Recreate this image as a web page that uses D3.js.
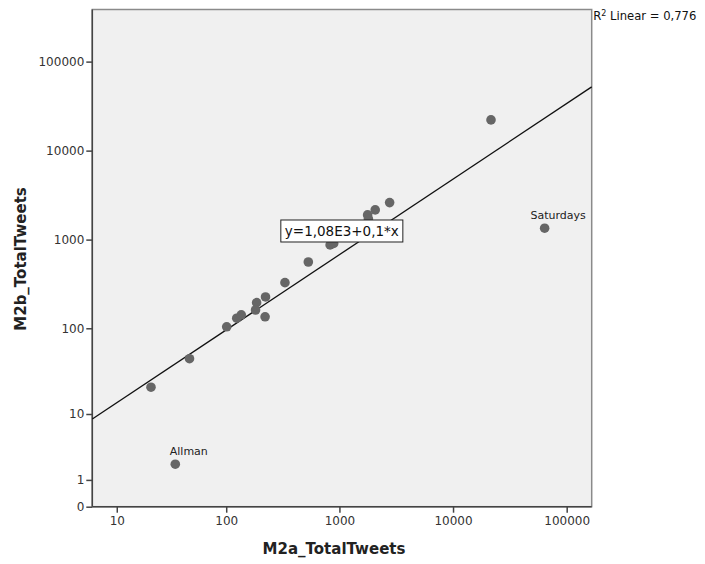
<!DOCTYPE html>
<html>
<head>
<meta charset="utf-8">
<script src="https://cdn.jsdelivr.net/npm/d3@7"></script>
<style>
  body { margin: 0; background: #fff; }
  svg { font-family: "DejaVu Sans", sans-serif; }
</style>
</head>
<body>
<svg width="705" height="564"></svg>
<script>
// M2a vs M2b total tweets, one point per case
const xValues = [21, 47, 101, 124, 136, 186, 182, 223, 221, 331, 532, 828, 890, 1771, 1799, 2066, 2767, 21580, 63970, 35];
const yValues = [21, 45, 104, 130, 142, 195, 161, 226, 135, 328, 560, 871, 906, 1896, 1709, 2157, 2606, 22130, 1343, 2];
const pointLabels = ['', '', '', '', '', '', '', '', '', '', '', '', '', '', '', '', '', '', 'Saturdays', 'Allman'];

const xTicks = [10, 100, 1000, 10000, 100000];
const yTicks = [0, 1, 10, 100, 1000, 10000, 100000];

// fit line, in log10(v + 1) units
const fitIntercept = 0.284;
const fitSlope = 0.849;
const fitText = 'y=1,08E3+0,1*x';
const r2Text = '0,776';

const svg = d3.select('svg');

const plotLeft = 92.3, plotRight = 591.7, plotTop = 9.5, plotBottom = 506.7;

const x = d3.scaleSymlog().constant(1)
  .domain([5.7, 166000])
  .range([plotLeft, plotRight]);

const y = d3.scaleSymlog().constant(1)
  .domain([0, 385000])
  .range([plotBottom, plotTop]);

svg.append('rect')
  .attr('x', plotLeft)
  .attr('y', plotTop)
  .attr('width', plotRight - plotLeft)
  .attr('height', plotBottom - plotTop)
  .attr('fill', '#f0f0f0')
  .attr('stroke', '#8a8a8a')
  .attr('stroke-width', 1.5);

const xAxis = svg.append('g')
  .attr('transform', `translate(0,${plotBottom})`)
  .call(d3.axisBottom(x).tickValues(xTicks).tickFormat(d3.format('d')).tickSize(6).tickPadding(4));

const yAxis = svg.append('g')
  .attr('transform', `translate(${plotLeft},0)`)
  .call(d3.axisLeft(y).tickValues(yTicks).tickFormat(d3.format('d')).tickSize(6).tickPadding(2));

[xAxis, yAxis].forEach(g => {
  g.select('.domain').attr('stroke', '#444').attr('stroke-width', 1.5);
  g.selectAll('.tick line').attr('stroke', '#444').attr('stroke-width', 1.5);
  g.selectAll('.tick text')
    .attr('fill', '#333')
    .style('font-size', '12px')
    .style('font-family', '"DejaVu Sans", sans-serif');
});
xAxis.select('.domain').attr('d', `M${plotLeft},0H${plotRight}`);
yAxis.select('.domain').attr('d', `M0,${plotBottom}V${plotTop}`);

// fit line
const fitY = v => Math.pow(10, fitIntercept + fitSlope * Math.log10(v + 1)) - 1;
const xd = x.domain();
svg.append('line')
  .attr('x1', x(xd[0]))
  .attr('y1', y(fitY(xd[0])))
  .attr('x2', x(xd[1]))
  .attr('y2', y(fitY(xd[1])))
  .attr('stroke', '#111')
  .attr('stroke-width', 1.3);

const points = xValues.map((v, i) => ({ x: v, y: yValues[i], label: pointLabels[i] }));

svg.append('g')
  .selectAll('circle')
  .data(points)
  .enter()
  .append('circle')
  .attr('cx', d => x(d.x))
  .attr('cy', d => y(d.y))
  .attr('r', 4.8)
  .attr('fill', '#666');

svg.append('g')
  .selectAll('text')
  .data(points.filter(d => d.label))
  .enter()
  .append('text')
  .attr('x', d => x(d.x) + 13.5)
  .attr('y', d => y(d.y) - 9)
  .attr('text-anchor', 'middle')
  .attr('fill', '#222')
  .style('font-size', '11px')
  .text(d => d.label);

// equation box
const eq = svg.append('g')
  .attr('transform', `translate(${x(1050)},${y(1250)})`);
const eqText = eq.append('text')
  .attr('text-anchor', 'middle')
  .attr('dy', '0.36em')
  .attr('fill', '#111')
  .style('font-size', '13.5px')
  .text(fitText);
const bb = eqText.node().getBBox();
eq.insert('rect', 'text')
  .attr('x', bb.x - 4)
  .attr('y', -11)
  .attr('width', bb.width + 8)
  .attr('height', 22)
  .attr('fill', '#fff')
  .attr('stroke', '#222')
  .attr('stroke-width', 1);

// R squared
const r2 = svg.append('text')
  .attr('x', plotRight + 1.5)
  .attr('y', 20)
  .attr('fill', '#111')
  .style('font-size', '11.6px');
r2.append('tspan').text('R');
r2.append('tspan').attr('dy', -4).style('font-size', '8px').text('2');
r2.append('tspan').attr('dy', 4).text(` Linear = ${r2Text}`);

// axis titles
svg.append('text')
  .attr('x', (plotLeft + plotRight) / 2 - 8)
  .attr('y', 554)
  .attr('text-anchor', 'middle')
  .attr('fill', '#222')
  .style('font-size', '15px')
  .style('font-weight', 'bold')
  .text('M2a_TotalTweets');

svg.append('text')
  .attr('transform', 'translate(26,259) rotate(-90)')
  .attr('text-anchor', 'middle')
  .attr('fill', '#222')
  .style('font-size', '15px')
  .style('font-weight', 'bold')
  .text('M2b_TotalTweets');
</script>
</body>
</html>
